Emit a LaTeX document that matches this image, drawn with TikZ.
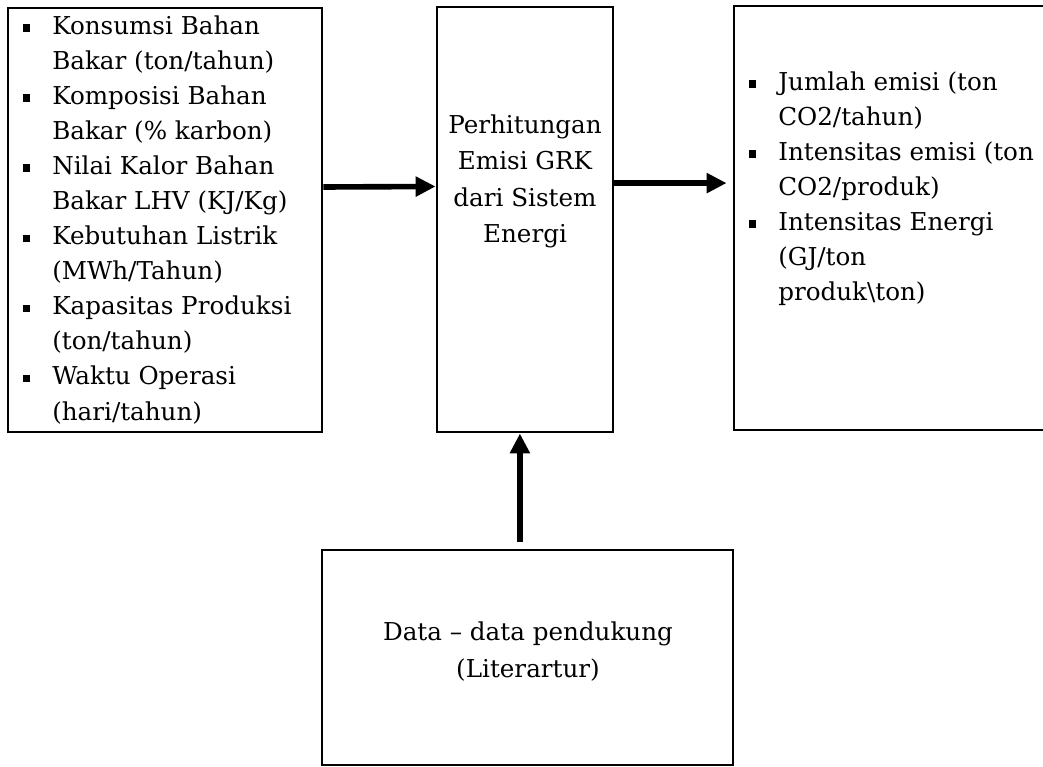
\documentclass[tikz,border=0pt]{standalone}
\usepackage{fontspec}
\setmainfont{DejaVu Serif}
\usetikzlibrary{arrows.meta}

\newcommand{\sq}{\makebox[0.725cm][l]{\rule[2pt]{0.16cm}{0.19cm}}}
\newcommand{\ind}{\hspace*{0.725cm}}

\tikzset{
	box/.style={draw, line width=2pt, inner sep=0pt},
	txt/.style={inner sep=0pt, font=\fontsize{17.5}{24.9}\selectfont},
	arr/.style={line width=4pt, -{Triangle[length=0.5cm,width=0.48cm]}}
}

\begin{document}
\begin{tikzpicture}[x=0.025cm, y=-0.025cm]
	\useasboundingbox (0,0) rectangle (1043,767);
	% boxes
	\node[box, minimum width=7.85cm, minimum height=10.6cm] (inp) at (165,220) {};
	\node[box, minimum width=4.4cm, minimum height=10.625cm] (calc) at (525,219.5) {};
	\node[box, minimum width=8.15cm, minimum height=10.6cm] (outp) at (897,218) {};
	\node[box, minimum width=10.275cm, minimum height=5.375cm] (data) at (527.5,657.5) {};
	% texts
	\node[txt, anchor=west, align=left] (inptxt) at (23,220) {%
		\sq Konsumsi Bahan\\
		\ind Bakar (ton/tahun)\\
		\sq Komposisi Bahan\\
		\ind Bakar (\% karbon)\\
		\sq Nilai Kalor Bahan\\
		\ind Bakar LHV (KJ/Kg)\\
		\sq Kebutuhan Listrik\\
		\ind (MWh/Tahun)\\
		\sq Kapasitas Produksi\\
		\ind (ton/tahun)\\
		\sq Waktu Operasi\\
		\ind (hari/tahun)};
	\node[txt, align=center, font=\fontsize{17.5}{26}\selectfont] (calctxt) at (525,181.5)
		{Perhitungan\\ Emisi GRK\\ dari Sistem\\ Energi};
	\node[txt, anchor=west, align=left] (outtxt) at (749,189) {%
		\sq Jumlah emisi (ton\\
		\ind CO2/tahun)\\
		\sq Intensitas emisi (ton\\
		\ind CO2/produk)\\
		\sq Intensitas Energi\\
		\ind (GJ/ton\\
		\ind produk\textbackslash ton)};
	\node[txt, align=center, font=\fontsize{17.5}{26.3}\selectfont] (datatxt) at (528,651.5)
		{Data -- data pendukung\\ (Literartur)};
	% arrows
	\draw[arr] ([yshift=0.825cm]inp.east) -- ([yshift=0.825cm]calc.west);
	\draw[arr, shorten >=0.15cm] ([yshift=0.91cm]calc.east) -- ([yshift=0.91cm]calc.east -| outp.west);
	\draw[arr, line width=4.8pt, shorten <=0.175cm] ([xshift=-0.19cm]data.north) -- ([xshift=-0.19cm]data.north |- calc.south);
\end{tikzpicture}
\end{document}
